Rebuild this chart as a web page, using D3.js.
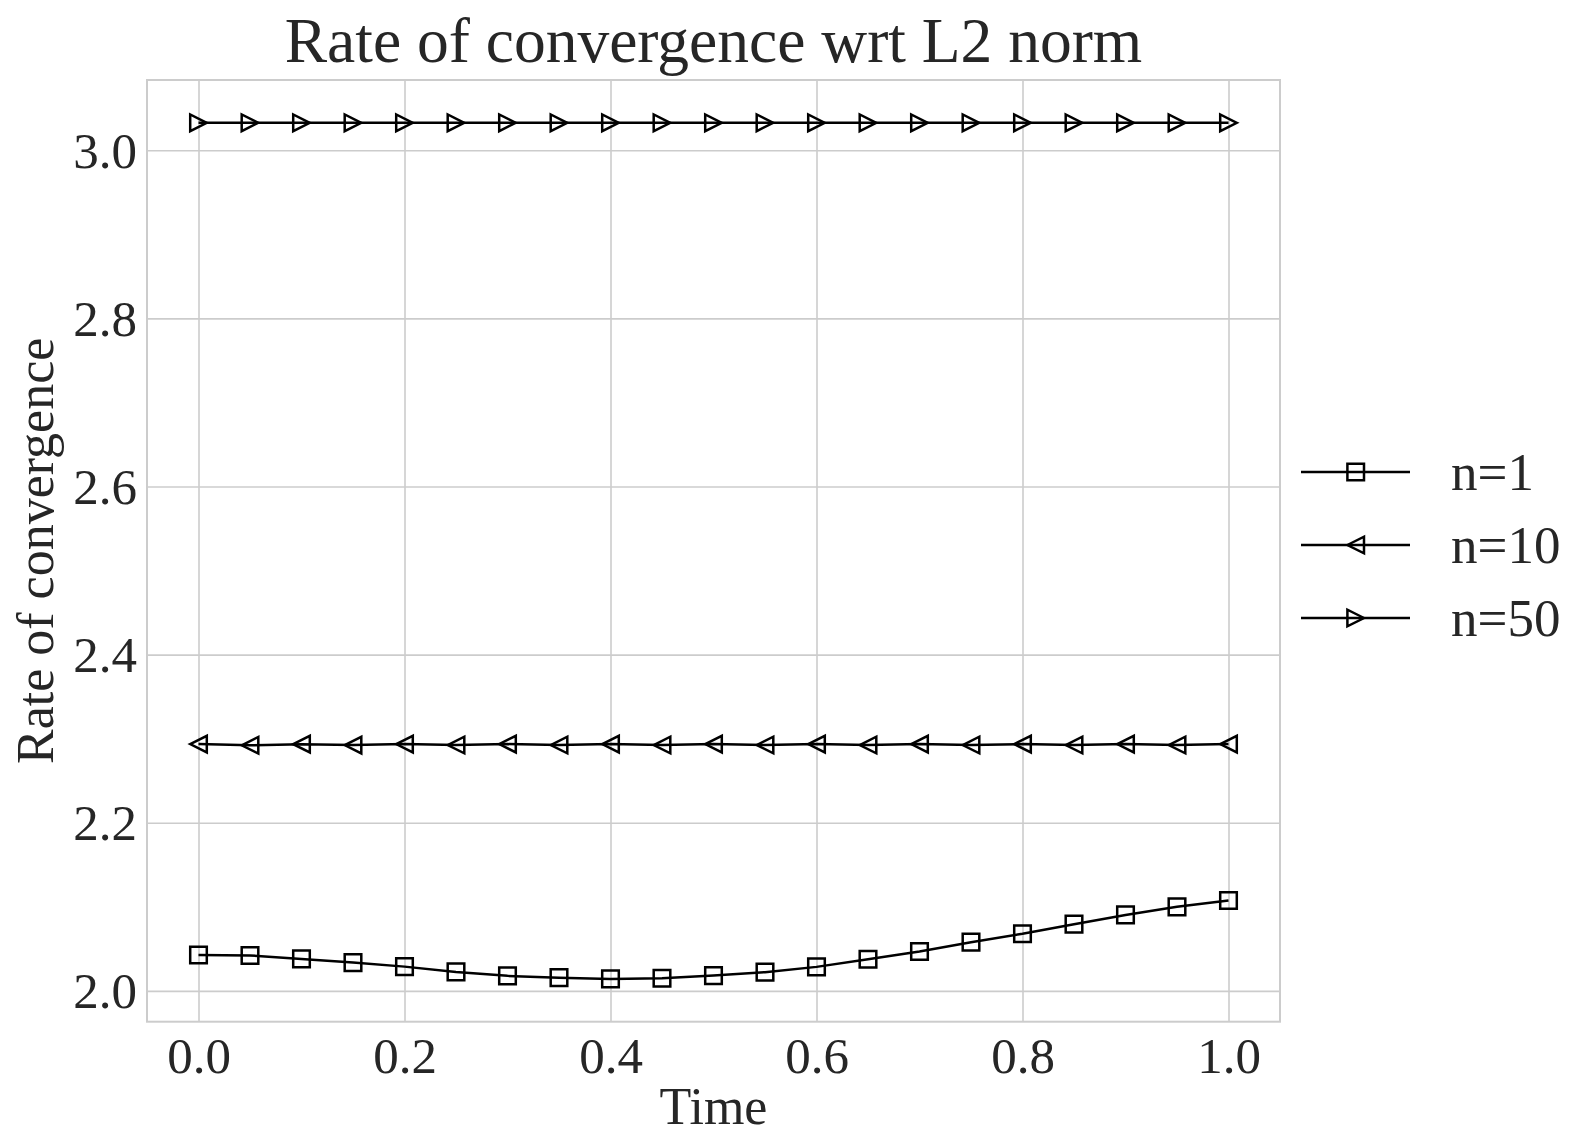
<!DOCTYPE html>
<html>
<head>
<meta charset="utf-8">
<script src="https://cdn.jsdelivr.net/npm/d3@7/dist/d3.min.js"></script>
<style>
  html, body { margin: 0; padding: 0; background: #ffffff; }
  svg { display: block; }
  text { font-family: "Liberation Serif", "DejaVu Serif", serif; fill: #262626; }
</style>
</head>
<body>
<svg id="chart" width="1580" height="1138"></svg>
<script>
// Sample times (0 to 1 in steps of 0.05)
const times = [0.00, 0.05, 0.10, 0.15, 0.20, 0.25, 0.30, 0.35, 0.40, 0.45, 0.50,
               0.55, 0.60, 0.65, 0.70, 0.75, 0.80, 0.85, 0.90, 0.95, 1.00];

// Convergence rate per number of elements n
const rateN1 = [2.0428, 2.0422, 2.0381, 2.0337, 2.0289, 2.0226, 2.0179, 2.0158, 2.0143, 2.0151, 2.0182,
                2.0223, 2.0286, 2.0377, 2.0468, 2.0580, 2.0680, 2.0794, 2.0904, 2.1000, 2.1075];
const rateN10 = [2.2936, 2.2922, 2.2935, 2.2924, 2.2936, 2.2925, 2.2936, 2.2925, 2.2936, 2.2925, 2.2936,
                 2.2925, 2.2936, 2.2925, 2.2936, 2.2925, 2.2936, 2.2925, 2.2936, 2.2925, 2.2936];
const rateN50 = [3.0326, 3.0326, 3.0326, 3.0326, 3.0326, 3.0326, 3.0326, 3.0326, 3.0326, 3.0326, 3.0326,
                 3.0326, 3.0326, 3.0326, 3.0326, 3.0326, 3.0326, 3.0326, 3.0326, 3.0326, 3.0326];

const seriesNames = ["n=1", "n=10", "n=50"];
const seriesMarkers = ["square", "triangleLeft", "triangleRight"];

const xTicks = [0.0, 0.2, 0.4, 0.6, 0.8, 1.0];
const yTicks = [2.0, 2.2, 2.4, 2.6, 2.8, 3.0];

const titleText = "Rate of convergence wrt L2 norm";
const xLabelText = "Time";
const yLabelText = "Rate of convergence";

// ---- layout ----
const plot = { left: 147, right: 1280, top: 80, bottom: 1021.7 };

const series = [rateN1, rateN10, rateN50].map((vals, i) => ({
  name: seriesNames[i],
  marker: seriesMarkers[i],
  points: times.map((t, j) => ({ t, v: vals[j] }))
}));

// Axis limits with 5% padding around the data
const xExt = d3.extent(times);
const xPad = (xExt[1] - xExt[0]) * 0.05;
const allVals = [].concat(rateN1, rateN10, rateN50);
const yExt = d3.extent(allVals);
const yPad = (yExt[1] - yExt[0]) * 0.05;

const x = d3.scaleLinear().domain([xExt[0] - xPad, xExt[1] + xPad]).range([plot.left, plot.right]);
const y = d3.scaleLinear().domain([yExt[0] - yPad, yExt[1] + yPad]).range([plot.bottom, plot.top]);

// Unfilled marker shapes
const R = 8.3;
const markerTypes = {
  square: { draw(ctx) { ctx.moveTo(-R, -R); ctx.lineTo(R, -R); ctx.lineTo(R, R); ctx.lineTo(-R, R); ctx.closePath(); } },
  triangleLeft: { draw(ctx) { ctx.moveTo(-R, 0); ctx.lineTo(R, -R); ctx.lineTo(R, R); ctx.closePath(); } },
  triangleRight: { draw(ctx) { ctx.moveTo(R, 0); ctx.lineTo(-R, -R); ctx.lineTo(-R, R); ctx.closePath(); } }
};
const symbolPath = name => d3.symbol().type(markerTypes[name])();

const svg = d3.select("#chart");
const lineW = 2.5;

// Grid
const gridColor = "#cccccc";
const gx = svg.append("g")
  .attr("transform", `translate(0,${plot.bottom})`)
  .call(d3.axisBottom(x).tickValues(xTicks).tickSize(-(plot.bottom - plot.top)).tickFormat(d3.format(".1f")).tickPadding(14));
gx.select(".domain").remove();
gx.selectAll(".tick line").attr("stroke", gridColor).attr("stroke-width", 1.6);
gx.selectAll(".tick text")
  .attr("fill", "#262626").attr("font-size", 51)
  .attr("font-family", "Liberation Serif, DejaVu Serif, serif")
  .attr("dy", "0.74em");

const gy = svg.append("g")
  .attr("transform", `translate(${plot.left},0)`)
  .call(d3.axisLeft(y).tickValues(yTicks).tickSize(-(plot.right - plot.left)).tickFormat(d3.format(".1f")).tickPadding(10));
gy.select(".domain").remove();
gy.selectAll(".tick line").attr("stroke", gridColor).attr("stroke-width", 1.6);
gy.selectAll(".tick text")
  .attr("fill", "#262626").attr("font-size", 51)
  .attr("font-family", "Liberation Serif, DejaVu Serif, serif")
  .attr("dy", "0.33em");

// Axes frame
svg.append("rect")
  .attr("x", plot.left).attr("y", plot.top)
  .attr("width", plot.right - plot.left).attr("height", plot.bottom - plot.top)
  .attr("fill", "none").attr("stroke", gridColor).attr("stroke-width", 2);

// Series lines and markers
const line = d3.line().x(d => x(d.t)).y(d => y(d.v));
const gs = svg.append("g").selectAll("g").data(series).join("g");
gs.append("path")
  .attr("d", d => line(d.points))
  .attr("fill", "none").attr("stroke", "#000").attr("stroke-width", lineW);
gs.each(function (s) {
  d3.select(this).selectAll("path.mk").data(s.points).join("path")
    .attr("class", "mk")
    .attr("d", symbolPath(s.marker))
    .attr("transform", d => `translate(${x(d.t)},${y(d.v)})`)
    .attr("fill", "none").attr("stroke", "#000").attr("stroke-width", lineW);
});

// Title and axis labels
svg.append("text")
  .attr("x", (plot.left + plot.right) / 2).attr("y", 62)
  .attr("text-anchor", "middle").attr("font-size", 63.5)
  .text(titleText);

svg.append("text")
  .attr("x", (plot.left + plot.right) / 2).attr("y", 1124)
  .attr("text-anchor", "middle").attr("font-size", 52)
  .text(xLabelText);

svg.append("text")
  .attr("transform", `translate(53,${(plot.top + plot.bottom) / 2}) rotate(-90)`)
  .attr("text-anchor", "middle").attr("font-size", 52)
  .text(yLabelText);

// Legend
const legendRows = [472, 545, 618];
const lg = svg.append("g").selectAll("g").data(series).join("g")
  .attr("transform", (d, i) => `translate(0,${legendRows[i]})`);
lg.append("line")
  .attr("x1", 1301).attr("x2", 1410).attr("y1", 0).attr("y2", 0)
  .attr("stroke", "#000").attr("stroke-width", lineW);
lg.append("path")
  .attr("d", d => symbolPath(d.marker))
  .attr("transform", "translate(1355.7,0)")
  .attr("fill", "none").attr("stroke", "#000").attr("stroke-width", lineW);
lg.append("text")
  .attr("x", 1451).attr("y", 0).attr("dy", "0.34em")
  .attr("font-size", 53)
  .text(d => d.name);
</script>
</body>
</html>
